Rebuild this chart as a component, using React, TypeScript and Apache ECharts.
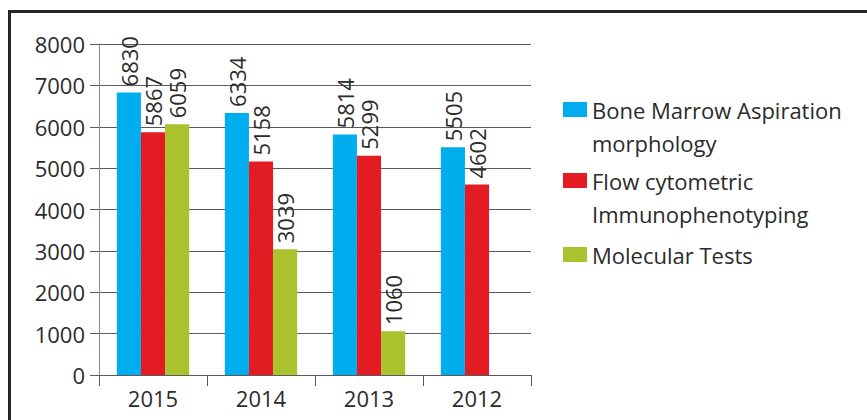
import React, { useEffect, useRef } from "react";
import * as echarts from "echarts";

const categories = ["2015", "2014", "2013", "2012"];
const boneMarrow = [6830, 6334, 5814, 5505];
const flowCytometric = [5867, 5158, 5299, 4602];
const molecular: (number | null)[] = [6059, 3039, 1060, null];
const seriesNames = [
  "Bone Marrow Aspiration\nmorphology",
  "Flow cytometric\nImmunophenotyping",
  "Molecular Tests",
];
const colors = ["#00AEEF", "#E31B23", "#ABC22F"];
const yTicks = { min: 0, max: 8000, interval: 1000 };

const FONT = "'Open Sans', 'Noto Sans', sans-serif";
const TEXT = "#2b2b2b";
const GRID = "#5a5a5a";

export default function App() {
  const ref = useRef<HTMLDivElement>(null);
  useEffect(() => {
    if (!ref.current) return;
    const chart = echarts.init(ref.current, undefined, { renderer: "svg" });
    const label = {
      show: true,
      position: "top" as const,
      rotate: 90,
      align: "left" as const,
      verticalAlign: "middle" as const,
      distance: 6,
      fontFamily: FONT,
      fontSize: 22,
      color: TEXT,
    };
    const legendCommon = {
      orient: "vertical" as const,
      left: 563,
      padding: 0,
      itemWidth: 24,
      itemHeight: 15,
      itemGap: 0,
      icon: "rect",
      selectedMode: false,
      textStyle: { fontFamily: FONT, fontSize: 22, color: TEXT, lineHeight: 33 },
    };
    chart.setOption({
      animation: false,
      backgroundColor: "#ffffff",
      color: colors,
      grid: { left: 99, right: 336, top: 44, bottom: 45, containLabel: false },
      legend: [
        {
          ...legendCommon,
          top: 60,
          data: [seriesNames[0]],
          formatter: (n: string) => "\n" + n,
        },
        {
          ...legendCommon,
          top: 131,
          data: [seriesNames[1]],
          formatter: (n: string) => "\n" + n,
        },
        {
          ...legendCommon,
          top: 238,
          data: [seriesNames[2]],
        },
      ],
      xAxis: {
        type: "category",
        data: categories,
        axisLine: { show: true, lineStyle: { color: GRID, width: 1 } },
        axisTick: { show: true, length: 11, alignWithLabel: false, lineStyle: { color: GRID } },
        axisLabel: { fontFamily: FONT, fontSize: 22, color: TEXT, margin: 12 },
      },
      yAxis: {
        type: "value",
        min: yTicks.min,
        max: yTicks.max,
        interval: yTicks.interval,
        axisLine: { show: true, lineStyle: { color: "#8a8a8a", width: 1 } },
        axisTick: { show: true, length: 9, lineStyle: { color: GRID } },
        splitLine: { show: true, lineStyle: { color: GRID, width: 1 } },
        axisLabel: {
          fontFamily: FONT,
          fontSize: 22,
          color: TEXT,
          margin: 14,
          formatter: (v: number) => String(v),
        },
      },
      series: [
        {
          name: seriesNames[0],
          type: "bar",
          data: boneMarrow,
          barGap: "0%",
          barCategoryGap: "33%",
          label,
        },
        {
          name: seriesNames[1],
          type: "bar",
          data: flowCytometric,
          barGap: "0%",
          barCategoryGap: "33%",
          label,
        },
        {
          name: seriesNames[2],
          type: "bar",
          data: molecular,
          barGap: "0%",
          barCategoryGap: "33%",
          label,
        },
      ],
      graphic: [
        {
          type: "polyline",
          shape: { points: [[9.5, 420], [9.5, 11.5], [867, 11.5]] },
          style: { stroke: "#262626", lineWidth: 3, fill: null },
          silent: true,
          z: 100,
        },
      ],
    });
    return () => chart.dispose();
  }, []);
  return (
    <div
      ref={ref}
      style={{ position: "fixed", left: 0, top: 0, width: 867, height: 420 }}
    />
  );
}
